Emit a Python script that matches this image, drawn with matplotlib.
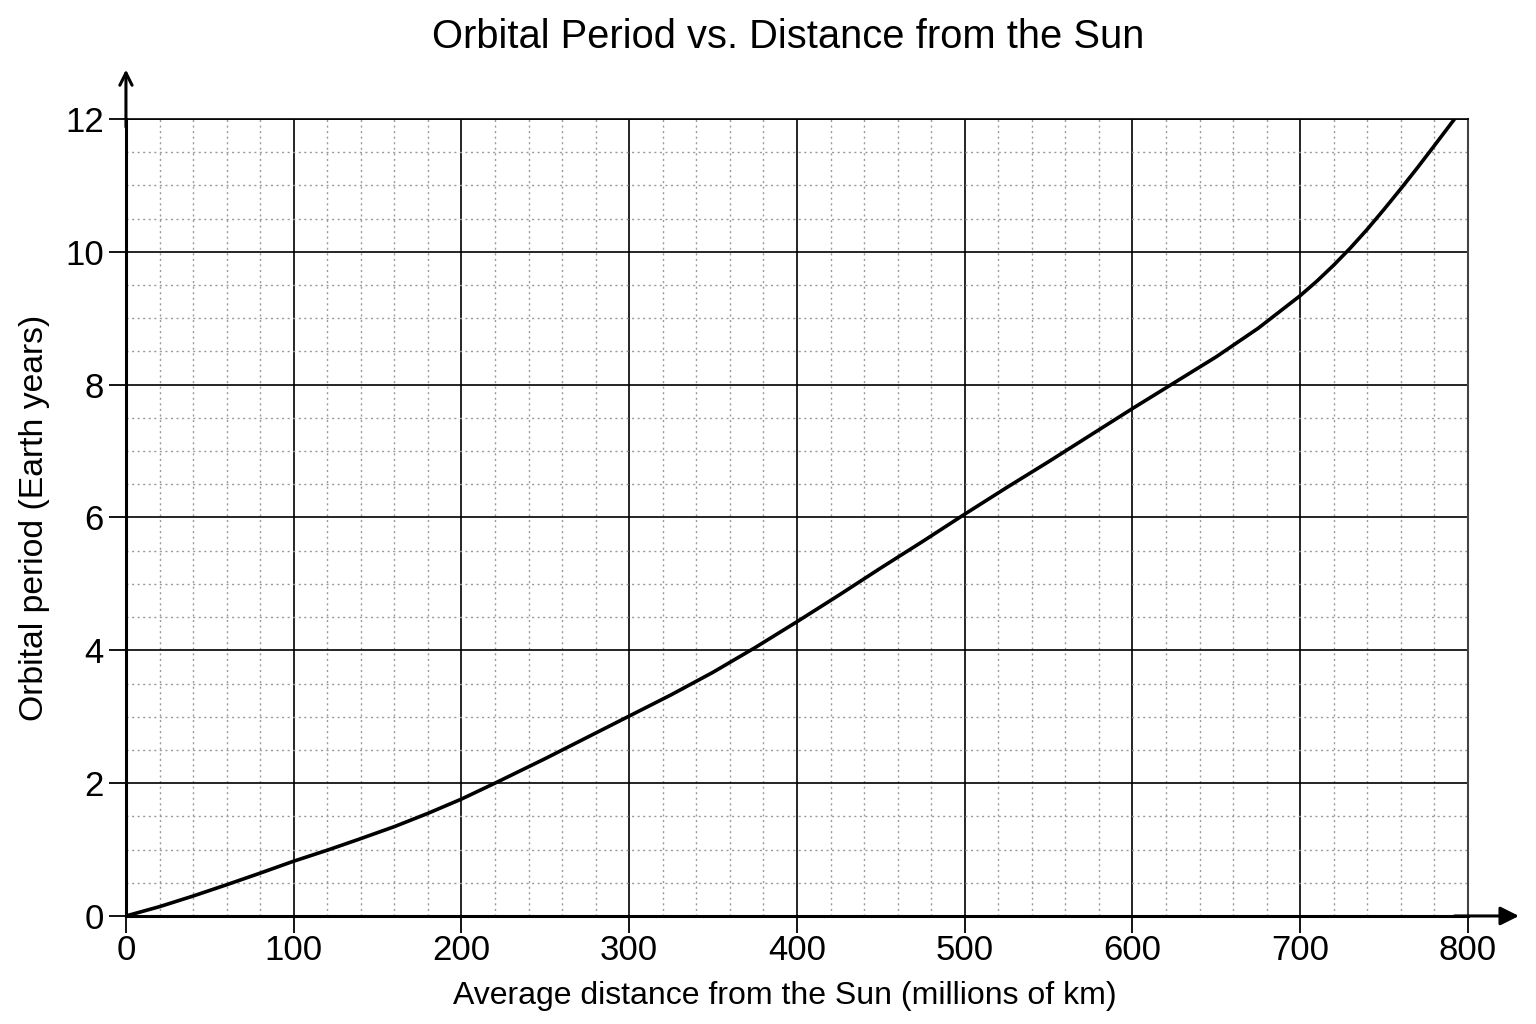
import matplotlib
matplotlib.use("Agg")
import matplotlib.pyplot as plt
from matplotlib.ticker import MultipleLocator

plt.rcParams['font.family'] = ['Liberation Sans', 'DejaVu Sans']

# distance from the Sun (millions of km) and orbital period (Earth years)
distance = [0, 20, 40, 60, 80, 100, 120, 140, 160, 180, 200, 220, 250, 275, 300,
            325, 350, 375, 400, 425, 450, 475, 500, 525, 550, 575, 600, 625,
            650, 675, 700, 710, 720, 730, 740, 750, 760, 770, 780, 792]
period = [0, 0.14, 0.30, 0.47, 0.645, 0.825, 0.99, 1.165, 1.345, 1.545, 1.76, 2.0, 2.37, 2.69, 3.01,
          3.33, 3.67, 4.04, 4.43, 4.83, 5.24, 5.64, 6.05, 6.45, 6.84, 7.24, 7.64, 8.03,
          8.42, 8.85, 9.34, 9.56, 9.80, 10.06, 10.34, 10.64, 10.95, 11.27, 11.6, 12.0]

x_ticks = [0, 100, 200, 300, 400, 500, 600, 700, 800]
y_ticks = [0, 2, 4, 6, 8, 10, 12]

fig = plt.figure(figsize=(15.36, 10.24), dpi=100)
ax = fig.add_axes([0.082, 0.1055, 0.8737, 0.7783])

ax.plot(distance, period, color='black', lw=2.6, solid_capstyle='round',
        solid_joinstyle='round', zorder=5)

ax.set_xlim(0, 800)
ax.set_ylim(0, 12)
ax.set_xticks(x_ticks)
ax.set_yticks(y_ticks)
ax.xaxis.set_minor_locator(MultipleLocator(20))
ax.yaxis.set_minor_locator(MultipleLocator(0.5))

ax.grid(which='major', color='black', lw=1.2)
ax.grid(which='minor', color='#9a9a9a', lw=1.0, linestyle=(0, (1.5, 2.5)))
ax.set_axisbelow(True)

ax.tick_params(which='major', labelsize=25, length=12, width=1.3, color='black', pad=4)
ax.tick_params(axis='x', which='major', pad=1)
ax.tick_params(which='minor', length=0)

for side in ['left', 'bottom']:
    ax.spines[side].set_linewidth(2.2)
    ax.spines[side].set_color('black')
ax.spines['top'].set_linewidth(1.2)
ax.spines['right'].set_linewidth(1.5)
ax.spines['right'].set_color('#444444')

# axis arrows
ax.annotate('', xy=(0, 1.062), xytext=(0, 0.99), xycoords='axes fraction',
            arrowprops=dict(arrowstyle='->', lw=2.2, color='black', mutation_scale=22,
                            shrinkA=0, shrinkB=0), annotation_clip=False)
ax.annotate('', xy=(1.038, 0), xytext=(0.99, 0), xycoords='axes fraction',
            arrowprops=dict(arrowstyle='-|>', lw=2.2, color='black', mutation_scale=28,
                            shrinkA=0, shrinkB=0), annotation_clip=False)

ax.set_xlabel('Average distance from the Sun (millions of km)', fontsize=23)
ax.xaxis.set_label_coords(0.491, -0.081)
ax.set_ylabel('Orbital period (Earth years)', fontsize=24.3, labelpad=11)
fig.suptitle('Orbital Period vs. Distance from the Sun', fontsize=28.7, x=0.513, y=0.982)

fig.savefig('out.png', dpi=100, facecolor='white')
